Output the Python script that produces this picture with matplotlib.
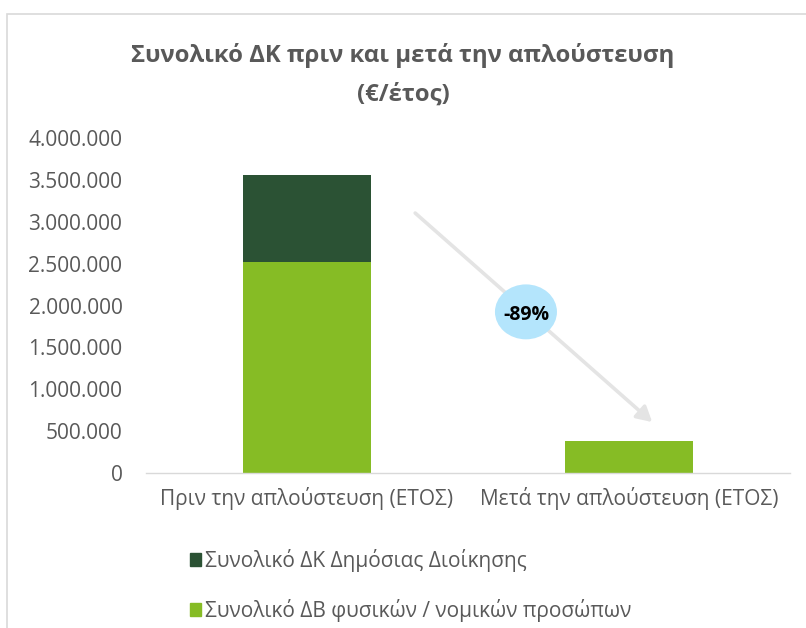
import matplotlib
matplotlib.use("Agg")
import matplotlib.pyplot as plt
from matplotlib.patches import Ellipse, Rectangle, FancyArrowPatch, Patch
from matplotlib.ticker import FuncFormatter, MultipleLocator

plt.rcParams['font.family'] = ['Open Sans', 'DejaVu Sans']

categories = ["Πριν την απλούστευση (ΕΤΟΣ)", "Μετά την απλούστευση (ΕΤΟΣ)"]
series_names = ["Συνολικό ΔΚ Δημόσιας Διοίκησης", "Συνολικό ΔΒ φυσικών / νομικών προσώπων"]
public_admin = [1040000, 0]
citizens_business = [2520000, 382000]
title = "Συνολικό ΔΚ πριν και μετά την απλούστευση\n(€/έτος)"

DARK = "#2B5234"
LIGHT = "#86BC25"
TXT = "#595959"

fig = plt.figure(figsize=(8.06, 6.28), dpi=100)
ax = fig.add_axes([146/806, 1-473/628, 644/806, 335/628])

x = list(range(len(categories)))
ax.bar(x, citizens_business, width=0.4, color=LIGHT, zorder=2)
ax.bar(x, public_admin, width=0.4, bottom=citizens_business, color=DARK, zorder=2)

ax.set_xlim(-0.5, 1.5)
ax.set_ylim(0, 4000000)
ax.yaxis.set_major_locator(MultipleLocator(500000))
ax.yaxis.set_major_formatter(FuncFormatter(lambda v, p: f"{int(v):,}".replace(",", ".")))
ax.set_xticks(x)
ax.set_xticklabels(categories)
ax.tick_params(axis='y', length=0, pad=17, labelsize=15, labelcolor=TXT)
ax.tick_params(axis='x', length=0, pad=10, labelsize=15, labelcolor=TXT)
for s in ['top', 'right', 'left']:
    ax.spines[s].set_visible(False)
ax.spines['bottom'].set_color("#D9D9D9")
ax.spines['bottom'].set_linewidth(1)

# Arrow and percentage change
arrow = FancyArrowPatch((0.418, 0.776), (0.786, 0.152), transform=ax.transAxes,
                        arrowstyle='-|>,head_length=9,head_width=5', color="#E4E4E4",
                        lw=2.6, zorder=3, shrinkA=0, shrinkB=0)
ax.add_patch(arrow)
ell = Ellipse((0.590, 0.481), 0.0963, 0.164, transform=ax.transAxes,
              facecolor="#B4E5FC", edgecolor='none', zorder=4)
ax.add_patch(ell)
before = public_admin[0] + citizens_business[0]
after = public_admin[1] + citizens_business[1]
pct = round((after - before) / before * 100)
ax.text(0.590, 0.472, f"{pct}%", transform=ax.transAxes, ha='center', va='center',
        fontsize=14, fontweight='bold', color='black', zorder=5)

fig.text(0.5, 1-75/628, title, ha='center', va='center', fontsize=17.2,
         fontweight='bold', color=TXT, linespacing=1.8)

# Legend
leg = fig.legend([Patch(color=DARK), Patch(color=LIGHT)], series_names, loc='upper left',
                 bbox_to_anchor=(171/806, 1-530/628), frameon=False,
                 fontsize=15, handlelength=0.55, handleheight=0.55,
                 handletextpad=0.2, labelspacing=1.3, labelcolor=TXT)

# Chart border
fig.patches.append(Rectangle((7/806, -0.05), 1.0, 1-14/628+0.05, transform=fig.transFigure,
                             fill=False, edgecolor="#D9D9D9", lw=1.2))

fig.savefig("out.png", dpi=100)
